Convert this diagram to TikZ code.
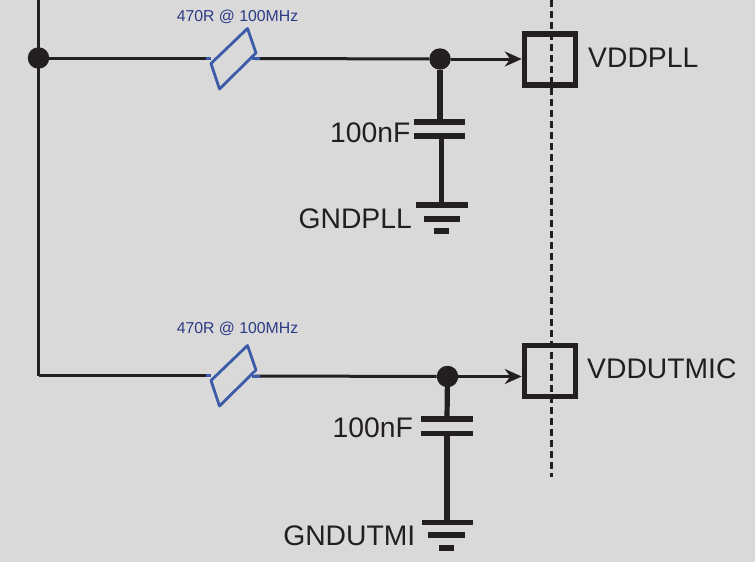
\documentclass[tikz,border=0pt]{standalone}
\usepackage{fontspec}
\setmainfont{Liberation Sans}
\usetikzlibrary{arrows.meta}
\definecolor{bgc}{HTML}{D9D9D9}
\definecolor{ink}{HTML}{231F20}
\definecolor{beadc}{HTML}{3B5BA9}
\definecolor{labc}{HTML}{2B3A86}
\tikzset{
  wire/.style={draw=ink,line width=3pt},
  feedwire/.style={wire,-{Stealth[length=17pt,width=15pt]}},
  leadwire/.style={draw=ink,line width=5.2pt},
  plate/.style={draw=ink,line width=5.2pt},
  pad/.style={draw=ink,line width=5.5pt,minimum size=51pt,inner sep=0pt,rectangle},
  jointdot/.style={circle,fill=ink,minimum size=21.5pt,inner sep=0pt},
  bead/.style={draw=beadc,line width=2.8pt,line join=round},
  beadlead/.style={draw=beadc,line width=3pt},
  biglabel/.style={text=ink,font=\fontsize{28.3pt}{30pt}\selectfont,inner sep=0pt},
  smalllabel/.style={text=labc,font=\fontsize{15.8pt}{17pt}\selectfont,inner sep=0pt},
  divider/.style={draw=ink,line width=3pt,dash pattern=on 6.5pt off 4.5pt}
}
\begin{document}
\begin{tikzpicture}[x=1pt,y=-1pt]
\useasboundingbox (0,0) rectangle (755,562);
\fill[bgc] (0,0) rectangle (755,562);
% named points
\coordinate (bustop) at (38.5,0);
\coordinate (busend) at (38.5,375.5);
\coordinate (divtop) at (551,0);
\coordinate (divend) at (551,477);
% nodes
\node[jointdot] (j0) at (38.5,58) {};
\node[jointdot] (j1) at (440,59) {};
\node[jointdot] (j2) at (447.5,376.5) {};
\node[pad] (p1) at (550,59.5) {};
\node[pad] (p2) at (550,371) {};
\coordinate (b1l) at (211,58);
\coordinate (b1r) at (255,58.5);
\coordinate (b2l) at (211,375.5);
\coordinate (b2r) at (255,376);
\coordinate (c1t) at (440,122);
\coordinate (c1b) at (441.5,136);
\coordinate (g1) at (441.5,205);
\coordinate (c2t) at (447,419);
\coordinate (c2b) at (447,433.5);
\coordinate (g2) at (447,522.5);
% divider
\draw[divider] (divtop) -- (divend);
% wires
\draw[wire] (bustop) -- (busend);
\draw[wire] (j0) -- (b1l);
\draw[wire] (b1r) -- (j1);
\draw[wire] (busend) -- (b2l);
\draw[wire] (b2r) -- (j2);
\draw[feedwire] (j1) -- (p1.west |- j1);
\draw[feedwire] (j2) -- (p2.west |- j2);
% beads
\draw[beadlead] (206,58) -- (b1l);
\draw[beadlead] (252,58.5) -- (260,58.5);
\draw[bead] (247.5,28.5) -- (256,53) -- (219.5,89) -- (211,63.5) -- cycle;
\draw[beadlead] (206,375.5) -- (b2l);
\draw[beadlead] (252,376) -- (260,376);
\draw[bead] (247.5,345.5) -- (256,370) -- (219.5,406) -- (211,380.5) -- cycle;
% capacitors
\draw[leadwire] (j1) -- (c1t);
\draw[plate] (414,122) -- (465,122);
\draw[plate] (414,136) -- (465,136);
\draw[leadwire] (c1b) -- (g1);
\draw[plate] (416,205) -- (468,205);
\draw[plate] (424,219) -- (460,219);
\draw[plate] (434,231) -- (449,231);
\draw[leadwire] (j2.center) -- (c2t);
\draw[plate] (421,419) -- (472.5,419);
\draw[plate] (421,433.5) -- (472.5,433.5);
\draw[leadwire] (c2b) -- (g2);
\draw[plate] (422,522.5) -- (473,522.5);
\draw[plate] (428,535) -- (465,535);
\draw[plate] (439,548) -- (454,548);
% labels
\node[smalllabel,anchor=base] (t1) at (237.5,21) {470R @ 100MHz};
\node[smalllabel,anchor=base] (t2) at (237.5,333) {470R @ 100MHz};
\node[biglabel,anchor=base west] (t3) at (588,67) {VDDPLL};
\node[biglabel,anchor=base west] (t4) at (587,378) {VDDUTMIC};
\node[biglabel,anchor=base east] (t5) at (410.5,142) {100nF};
\node[biglabel,anchor=base east] (t6) at (413,437) {100nF};
\node[biglabel,anchor=base east] (t7) at (412,228) {GNDPLL};
\node[biglabel,anchor=base east] (t8) at (415.5,545) {GNDUTMI};
\end{tikzpicture}
\end{document}
